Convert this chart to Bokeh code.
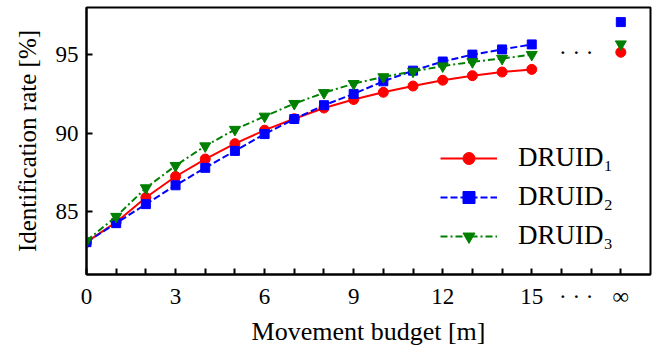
from bokeh.plotting import figure
from bokeh.models import Range1d, FixedTicker, Legend, LegendItem
from bokeh.core.properties import value
from bokeh.embed import file_html
from bokeh.resources import INLINE

# ---- data ----
budget = list(range(16))           # movement budget [m]
inf_pos = 18                       # position of the "infinite" budget on the axis
ellipsis_pos = 16.5                # position of the gap marker
druid1 = [83.06, 84.33, 85.90, 87.24, 88.35, 89.33, 90.19, 90.92, 91.60, 92.14,
          92.60, 93.00, 93.37, 93.66, 93.89, 94.06]
druid2 = [83.06, 84.27, 85.48, 86.68, 87.79, 88.87, 89.94, 90.90, 91.78, 92.50,
          93.30, 93.98, 94.56, 95.00, 95.33, 95.65]
druid3 = [83.15, 84.69, 86.51, 87.93, 89.18, 90.23, 91.07, 91.88, 92.57, 93.15,
          93.58, 93.93, 94.27, 94.54, 94.75, 95.00]
druid_inf = [95.15, 97.07, 95.67]
series_names = ["DRUID₁", "DRUID₂", "DRUID₃"]
tick_positions = [0, 3, 6, 9, 12, 15, 16.5, 18]
tick_labels = ["0", "3", "6", "9", "12", "15", "· · ·", "∞"]
y_ticks = [85, 90, 95]

FONT = "Liberation Serif"

p = figure(width=660, height=348, output_backend="svg", toolbar_location=None,
           x_range=Range1d(0, 19), y_range=Range1d(81, 98),
           min_border_left=86, min_border_right=10, min_border_top=7, min_border_bottom=72)

p.xgrid.visible = False
p.ygrid.visible = False
p.outline_line_color = "black"
p.outline_line_width = 2
p.outline_line_alpha = 1
p.background_fill_color = "white"
p.border_fill_color = "white"

# x axis
xa = p.xaxis[0]
xa.ticker = FixedTicker(ticks=tick_positions, minor_ticks=list(range(19)))
xa.major_label_overrides = {pos: lab for pos, lab in zip(tick_positions, tick_labels)}
xa.major_tick_in = 0
xa.major_tick_out = 0
xa.minor_tick_in = 6
xa.minor_tick_out = 0
xa.minor_tick_line_width = 2
xa.minor_tick_line_color = "black"
xa.axis_line_width = 2
xa.axis_line_color = "black"
xa.major_label_standoff = 9
xa.major_label_text_font = FONT
xa.major_label_text_font_size = "23px"
xa.major_label_text_color = "black"
xa.axis_label = "Movement budget [m]"
xa.axis_label_text_font = FONT
xa.axis_label_text_font_size = "26px"
xa.axis_label_text_font_style = "normal"
xa.axis_label_text_color = "black"
xa.axis_label_standoff = 5

# y axis
ya = p.yaxis[0]
ya.ticker = FixedTicker(ticks=y_ticks, minor_ticks=[])
ya.major_tick_in = 6
ya.major_tick_out = 0
ya.major_tick_line_width = 2
ya.minor_tick_in = 0
ya.minor_tick_out = 0
ya.axis_line_width = 2
ya.axis_line_color = "black"
ya.major_label_standoff = 8
ya.major_label_text_font = FONT
ya.major_label_text_font_size = "23px"
ya.major_label_text_color = "black"
ya.axis_label = "Identification rate [%]"
ya.axis_label_text_font = FONT
ya.axis_label_text_font_size = "25px"
ya.axis_label_text_font_style = "normal"
ya.axis_label_text_color = "black"
ya.axis_label_standoff = 12

colors = ["#ff0000", "#0000ff", "#008000"]
dashes = ["solid", "7 3", "7 3 2 3"]
markers = ["circle", "square", "inverted_triangle"]
sizes = [10, 9, 11]
series = [druid1, druid2, druid3]

items = []
for name, ys, c, d, m, s in zip(series_names, series, colors, dashes, markers, sizes):
    lr = p.line(budget, ys, line_color=c, line_width=2, line_dash=d)
    sr = p.scatter(budget, ys, marker=m, size=s, fill_color=c, line_color=c)
    items.append(LegendItem(label=name, renderers=[lr, sr]))

for yv, c, m, s in zip(druid_inf, colors, markers, sizes):
    p.scatter([inf_pos], [yv], marker=m, size=s, fill_color=c, line_color=c)

p.text(x=[ellipsis_pos], y=[druid_inf[0]], text=["· · ·"], text_font=value(FONT),
       text_font_size="23px", text_align="center", text_baseline="middle", text_color="black")

legend = Legend(items=items, location=(354, 23))
legend.border_line_alpha = 0
legend.background_fill_alpha = 0
legend.label_text_font = FONT
legend.label_text_font_size = "27px"
legend.label_text_color = "black"
legend.glyph_width = 57
legend.glyph_height = 30
legend.label_height = 30
legend.spacing = 8
legend.padding = 0
legend.margin = 0
legend.label_standoff = 21
p.add_layout(legend)

open("out.html", "w").write(file_html(p, INLINE))
